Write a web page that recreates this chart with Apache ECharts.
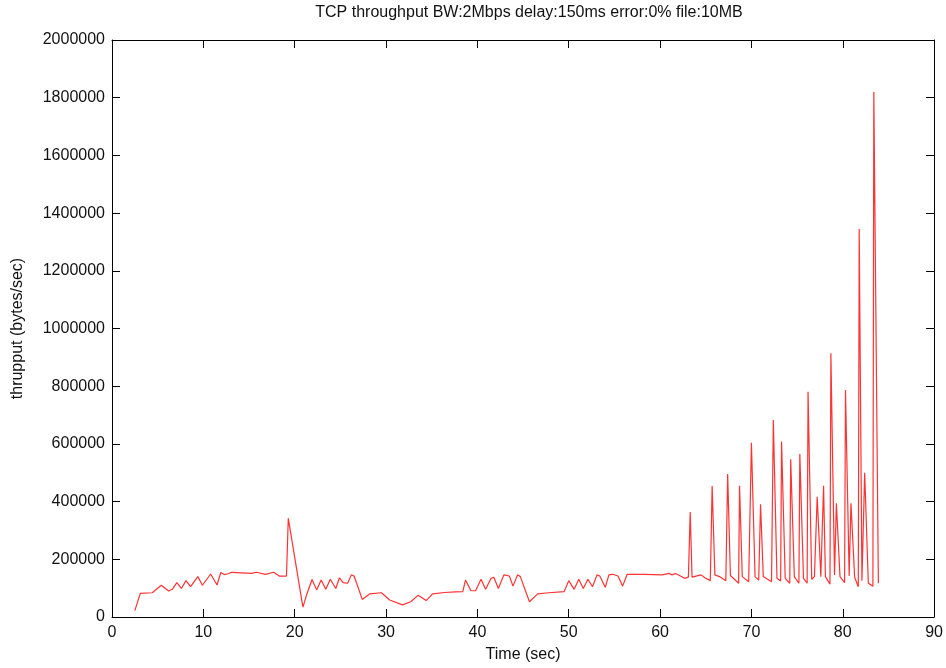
<!DOCTYPE html>
<html>
<head>
<meta charset="utf-8">
<script src="https://cdn.jsdelivr.net/npm/echarts@6/dist/echarts.min.js"></script>
<style>
  html, body { margin: 0; padding: 0; background: #fff; }
  #main { width: 946px; height: 668px; }
</style>
</head>
<body>
<div id="main"></div>
<script>
// 吞吐量曲线 TCP throughput

var timeSec = [
    2.5, 3.1, 4.4, 5.4, 6.2, 6.6, 7.1, 7.6, 8.1, 8.6, 9.4, 9.9, 10.8, 11.5, 11.9, 12.3, 12.7, 13.1,
    15.3, 15.8, 16.8, 17.7, 18.3, 19.1, 19.3, 20.9, 21.3, 21.9, 22.4, 22.9, 23.4, 23.9, 24.5, 24.9,
    25.3, 25.8, 26.2, 26.5, 27.4, 28.2, 29.5, 30.4, 31.8, 32.7, 33.5, 34.4, 35.1, 36.4, 37.6, 38.4,
    38.7, 39.3, 39.8, 40.4, 40.9, 41.5, 41.8, 42.3, 42.9, 43.5, 43.9, 44.4, 44.7, 45.7, 46.6, 47.8,
    49.5, 50.0, 50.6, 51.1, 51.6, 52.1, 52.6, 53.1, 53.4, 54.0, 54.4, 54.8, 55.4, 55.9, 56.4, 57.7,
    57.9, 58.3, 60.2, 61.0, 61.3, 61.7, 62.7, 63.1, 63.3, 63.5, 64.5, 64.9, 65.5, 65.7, 66.0, 66.5,
    67.2, 67.4, 67.7, 68.6, 68.7, 69.0, 69.7, 70.0, 70.4, 70.8, 71.0, 71.3, 72.2, 72.4, 72.8, 73.2,
    73.3, 73.7, 74.2, 74.3, 74.7, 75.2, 75.3, 75.7, 76.1, 76.2, 76.6, 76.9, 77.2, 77.6, 77.9, 78.1,
    78.6, 78.7, 79.1, 79.3, 79.7, 80.2, 80.3, 80.7, 80.9, 81.3, 81.7, 81.8, 82.1, 82.4, 82.8, 83.3,
    83.4, 83.9
];

var thruput = [
    22000, 82000, 84000, 110000, 90000, 96000, 119000, 99000, 126000, 105000, 140000, 110000, 149000, 111000, 154000, 147000, 150000, 155000,
    151000, 155000, 148000, 155000, 142000, 142000, 342000, 34000, 76000, 130000, 94000, 128000, 96000, 131000, 99000, 136000,
    119000, 117000, 146000, 142000, 61000, 80000, 84000, 59000, 42000, 53000, 75000, 57000, 80000, 85000, 87000, 88000,
    128000, 91000, 91000, 131000, 96000, 134000, 138000, 99000, 146000, 142000, 107000, 146000, 140000, 53000, 80000, 84000,
    88000, 126000, 96000, 131000, 99000, 131000, 105000, 146000, 142000, 103000, 146000, 148000, 142000, 107000, 148000, 148000,
    154000, 148000, 146000, 151000, 146000, 151000, 134000, 138000, 364000, 138000, 146000, 136000, 126000, 454000, 146000, 140000,
    126000, 496000, 144000, 117000, 455000, 140000, 122000, 604000, 140000, 128000, 391000, 140000, 122000, 683000, 134000, 125000,
    608000, 134000, 117000, 547000, 140000, 117000, 565000, 134000, 117000, 781000, 131000, 140000, 417000, 140000, 455000, 140000,
    114000, 914000, 146000, 394000, 140000, 119000, 787000, 142000, 394000, 138000, 105000, 1345000, 126000, 500000, 117000, 107000,
    1820000, 117000
];

var xTicks = [0, 10, 20, 30, 40, 50, 60, 70, 80, 90];
var yTicks = [0, 200000, 400000, 600000, 800000, 1000000, 1200000, 1400000, 1600000, 1800000, 2000000];

var points = timeSec.map(function (t, i) { return [t, thruput[i]]; });

var fontName = 'Liberation Sans';

function frameAxis (pos, min, max, step, show) {
    return {
        type: 'value',
        position: pos,
        min: min,
        max: max,
        interval: step,
        splitLine: { show: false },
        axisLine: { show: true, onZero: false, lineStyle: { color: '#000', width: 1 } },
        axisTick: { show: true, inside: true, length: 8, lineStyle: { color: '#000', width: 1 } },
        axisLabel: {
            show: show,
            color: '#111',
            fontFamily: fontName,
            fontSize: 16,
            margin: 8,
            formatter: function (v) { return String(v); }
        }
    };
}

var xMain = frameAxis('bottom', xTicks[0], xTicks[xTicks.length - 1], 10, true);
xMain.name = 'Time (sec)';
xMain.nameLocation = 'middle';
xMain.nameGap = 30;
xMain.nameTextStyle = { color: '#111', fontFamily: fontName, fontSize: 16 };

var yMain = frameAxis('left', yTicks[0], yTicks[yTicks.length - 1], 200000, true);
yMain.axisLabel.margin = 7;
yMain.name = 'thrupput (bytes/sec)';
yMain.nameLocation = 'middle';
yMain.nameGap = 86;
yMain.nameTextStyle = { color: '#111', fontFamily: fontName, fontSize: 16 };

var option = {
    backgroundColor: '#fff',
    animation: false,
    graphic: [{
        type: 'text',
        x: 529,
        y: 5,
        style: {
            text: 'TCP throughput BW:2Mbps delay:150ms error:0% file:10MB',
            fill: '#111',
            align: 'center',
            textAlign: 'center',
            font: '16px "Liberation Sans"'
        }
    }],
    grid: { left: 112, right: 10, top: 40, bottom: 51, containLabel: false },
    xAxis: [xMain, frameAxis('top', 0, 90, 10, false)],
    yAxis: [yMain, frameAxis('right', 0, 2000000, 200000, false)],
    series: [{
        type: 'line',
        xAxisIndex: 0,
        yAxisIndex: 0,
        data: points,
        showSymbol: false,
        symbol: 'none',
        lineStyle: { color: '#ff3333', width: 1.2 }
    }]
};

var myChart = echarts.init(document.getElementById('main'));
myChart.setOption(option);
</script>
</body>
</html>
